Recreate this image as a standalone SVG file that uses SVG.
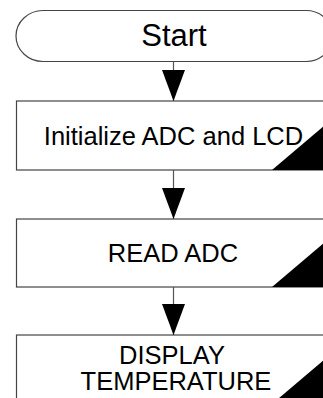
<svg xmlns="http://www.w3.org/2000/svg" width="323" height="398" viewBox="0 0 323 398">
  <style>
    .shape { fill: #ffffff; stroke: #444444; stroke-width: 1.2; }
    .corner { fill: #000000; stroke: none; }
    .label { font-family: "Liberation Sans", Arial, sans-serif; font-size: 25.5px; fill: #000000; text-anchor: middle; }
    .title { font-size: 31px; }
    .wire { stroke: #555555; stroke-width: 1.2; fill: none; marker-end: url(#head); }
  </style>
  <defs>
    <marker id="head" markerUnits="userSpaceOnUse" viewBox="0 0 31 23" markerWidth="31" markerHeight="23" refX="31" refY="11.5" orient="auto">
      <path d="M0,0 L31,11.5 L0,23 Z" fill="#000000"/>
    </marker>
  </defs>

  <!-- terminator -->
  <g id="start">
    <path class="shape" d="M43,10.5 H306 A27,25.5 0 0 1 306,61.5 H43 A27,25.5 0 0 1 43,10.5 Z"/>
    <text class="label title" x="174" y="46">Start</text>
  </g>

  <!-- process steps -->
  <g id="init">
    <rect class="shape" x="16.5" y="101" width="314" height="69"/>
    <polygon class="corner" points="272,170 331,170 331,120"/>
    <text class="label" x="173.5" y="145">Initialize ADC and LCD</text>
  </g>

  <g id="read">
    <rect class="shape" x="16.5" y="219" width="314" height="68"/>
    <polygon class="corner" points="272,287 331,287 331,237"/>
    <text class="label" x="173" y="262">READ ADC</text>
  </g>

  <g id="display">
    <rect class="shape" x="16.5" y="335" width="314" height="69"/>
    <polygon class="corner" points="272,404 331,404 331,354"/>
    <text class="label" x="172" y="364">DISPLAY</text>
    <text class="label" x="176" y="390">TEMPERATURE</text>
  </g>

  <!-- flow connectors -->
  <g id="connectors">
    <line class="wire" x1="173.5" y1="61.5" x2="173.5" y2="101"/>
    <line class="wire" x1="173.5" y1="170" x2="173.5" y2="219"/>
    <line class="wire" x1="173.5" y1="287" x2="173.5" y2="335"/>
  </g>
</svg>
